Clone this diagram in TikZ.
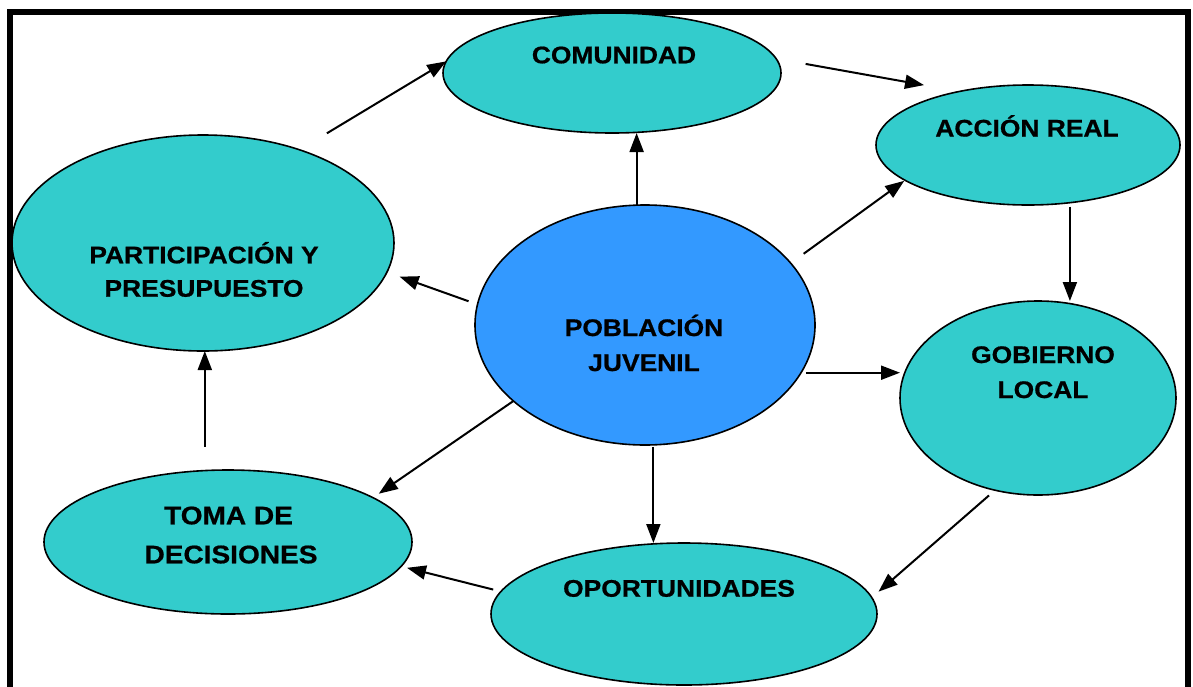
\documentclass[tikz,border=0pt]{standalone}
\usepackage{fontspec}
\newfontfamily\labfont[FakeStretch=1.1,FakeBold=0.7]{Liberation Sans}
\usetikzlibrary{shapes.geometric,arrows.meta}
\definecolor{teal1}{RGB}{51,204,204}
\definecolor{blue1}{RGB}{51,153,255}
\tikzset{
  bub/.style={ellipse, draw=black, line width=1.6pt, fill=teal1, inner sep=0pt, outer sep=0pt},
  lbl/.style={anchor=base, inner sep=0pt, font=\labfont\bfseries\fontsize{24}{28}\selectfont},
  lblbig/.style={anchor=base, inner sep=0pt, font=\labfont\bfseries\fontsize{25.5}{30}\selectfont},
  arr/.style={line width=2pt, -{Triangle[length=19pt,width=14pt]}}
}
\begin{document}
\begin{tikzpicture}[x=1pt,y=-1pt]
\useasboundingbox (0,0) rectangle (1193,686);
\fill[white] (0,0) rectangle (1193,686);
% frame
\draw[line width=6pt] (10,692) -- (10,11.5) -- (1187.5,11.5) -- (1187.5,692);
% ellipses
\node[bub, minimum width=338pt, minimum height=120pt] (com) at (612,73) {};
\node[bub, minimum width=304pt, minimum height=120pt] (acc) at (1028,145) {};
\node[bub, minimum width=382pt, minimum height=216pt] (part) at (203,243) {};
\node[bub, fill=blue1, minimum width=340pt, minimum height=240pt] (pob) at (645,325) {};
\node[bub, minimum width=276pt, minimum height=194pt] (gob) at (1038,398) {};
\node[bub, minimum width=368pt, minimum height=144pt] (toma) at (228,542) {};
\node[bub, minimum width=386pt, minimum height=142pt] (opo) at (684,614) {};
% labels
\node[lbl] (tcom) at (614,63.3) {COMUNIDAD};
\node[lbl] (tacc) at (1027,136.5) {ACCIÓN REAL};
\node[lbl] (tparta) at (204,263.3) {PARTICIPACIÓN Y};
\node[lbl] (tpartb) at (204,296.7) {PRESUPUESTO};
\node[lbl] (tpoba) at (644,336) {POBLACIÓN};
\node[lbl] (tpobb) at (644,371) {JUVENIL};
\node[lbl] (tgoba) at (1043,363) {GOBIERNO};
\node[lbl] (tgobb) at (1043,398) {LOCAL};
\node[lblbig] (ttomaa) at (228.5,524.3) {TOMA DE};
\node[lblbig] (ttomab) at (231,563.3) {DECISIONES};
\node[lbl] (topo) at (679,596.7) {OPORTUNIDADES};
% connectors
\draw[arr, shorten <=32pt] (part.44.5) -- (com.176.6);
\draw[arr, shorten <=30pt, shorten >=36pt] (com.5.4) -- (acc.142.3);
\draw[arr] (pob.94.3) -- (pob.94.3 |- com.south);
\draw[arr, shorten <=16pt, shorten >=1pt] (pob.23.3) -- (acc.-164.3);
\draw[arr, shorten <=4pt] (acc.-54) -- (acc.-54 |- gob.north);
\draw[arr, shorten <=5pt] (pob.-17.9) -- (pob.-17.9 -| gob.west);
\draw[arr, shorten <=8pt, shorten >=9pt] (gob.-115.6) -- (opo.5.9);
\draw[arr, shorten <=2pt] (pob.-86.7) -- (pob.-86.7 |- opo.north);
\draw[arr, shorten >=7pt] (pob.-150.9) -- (toma.17.3);
\draw[arr, shorten <=8pt, shorten >=6pt] (opo.173.2) -- (toma.-8.4);
\draw[arr, shorten <=23.6pt] (toma.108.6) -- (toma.108.6 |- part.south);
\draw[arr, shorten <=9.5pt, shorten >=13.5pt] (pob.173.65) -- (part.-9.5);
\end{tikzpicture}
\end{document}
